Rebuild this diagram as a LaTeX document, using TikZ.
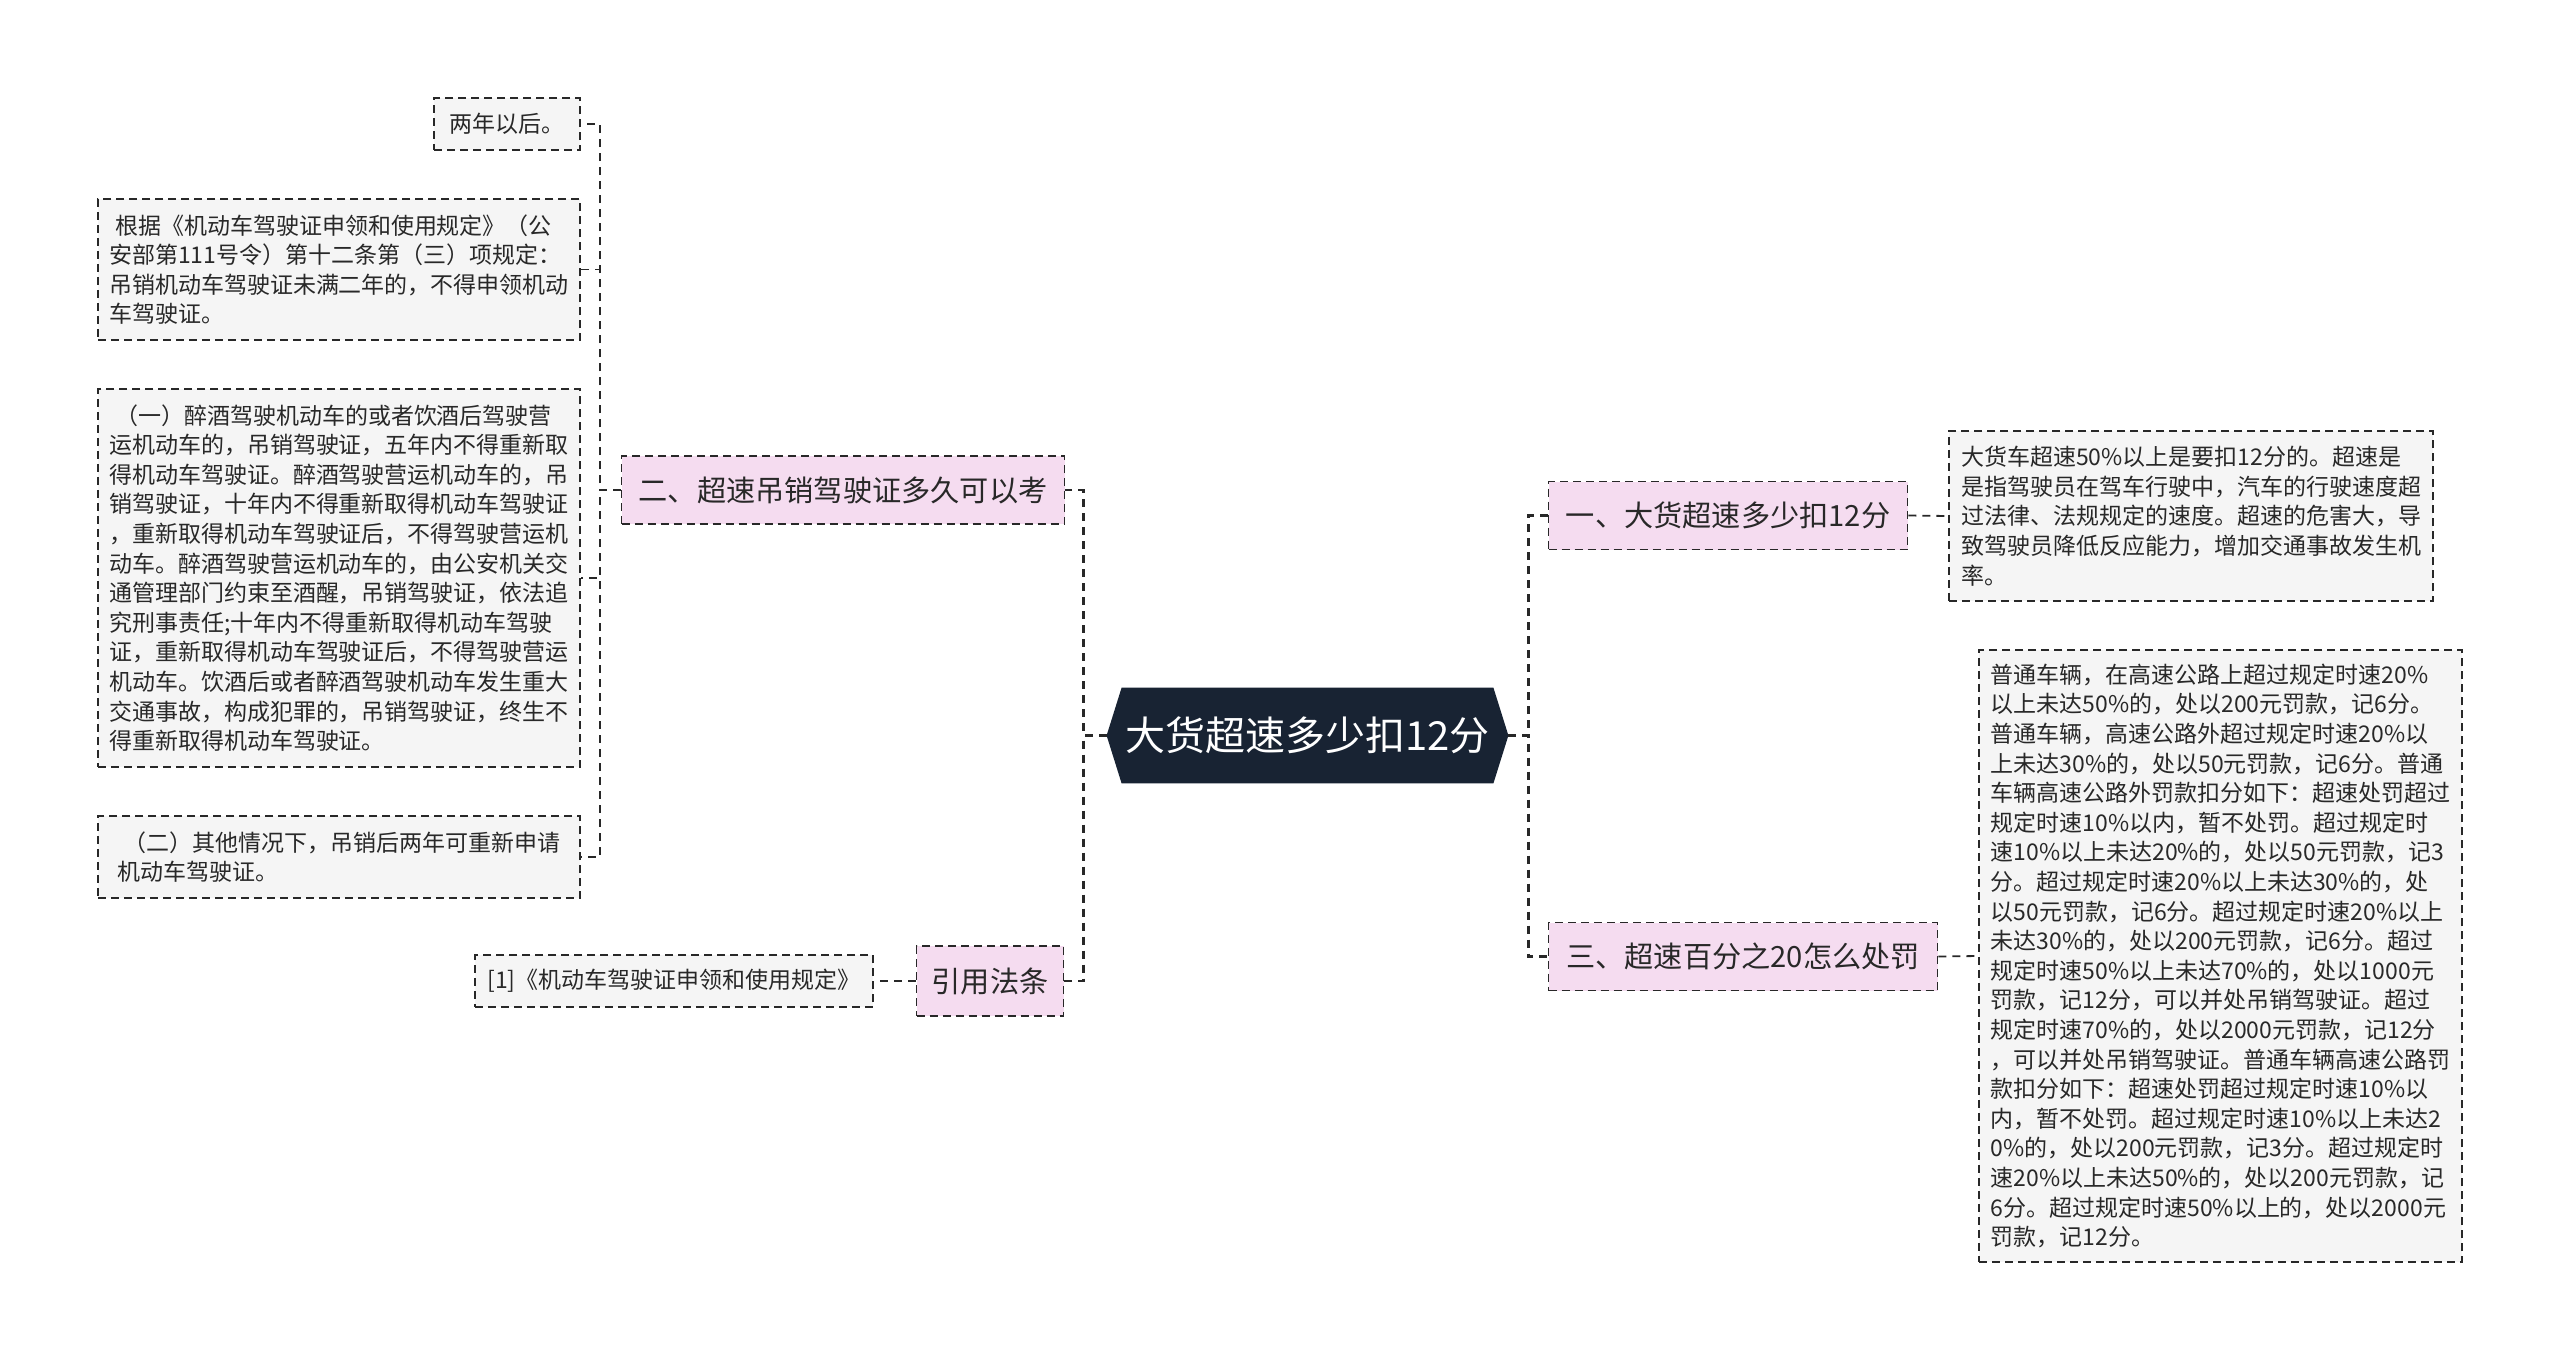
\documentclass[tikz,border=0pt]{standalone}
\usepackage{fontspec}
\setmainfont{Noto Sans CJK SC}
\usepackage{xcolor}
\usepackage{tikz}
\usetikzlibrary{backgrounds,calc}

\definecolor{rootfill}{RGB}{24,35,51}
\definecolor{branchfill}{RGB}{245,220,240}
\definecolor{leaffill}{RGB}{245,245,245}
\definecolor{linecol}{RGB}{40,40,40}
\definecolor{textcol}{RGB}{40,40,40}

\begin{document}
\begin{tikzpicture}[
		x=0.5pt, y=-0.5pt,
		rootbox/.style={
			rectangle, inner sep=0pt, text=white,
			minimum width=200.5pt, minimum height=47.5pt,
			font=\fontsize{20}{24}\selectfont
		},
		branch/.style={
			rectangle, inner sep=0pt,
			draw=linecol, line width=0.9pt, dash pattern=on 4pt off 2.5pt,
			fill=branchfill, text=textcol,
			font=\fontsize{14.6}{18}\selectfont
		},
		leaf/.style={
			rectangle, inner sep=0pt, align=left,
			draw=linecol, line width=0.8pt, dash pattern=on 4pt off 2.5pt,
			fill=leaffill, text=textcol,
			font=\fontsize{11.5}{14.8}\selectfont
		},
		link/.style={draw=linecol, line width=1.4pt, dash pattern=on 4pt off 3pt},
		sublink/.style={draw=linecol, line width=0.9pt, dash pattern=on 4pt off 3pt}
	]
	\useasboundingbox (0,0) rectangle (2560,1361);

	% centre
	\node[rootbox] (root) at (1307.5,735.5) {大货超速多少扣12分};
	\begin{scope}[on background layer]
		\fill[rootfill] (root.west) -- ($(root.north west)+(15,0)$) -- ($(root.north east)+(-15,0)$)
		-- (root.east) -- ($(root.south east)+(-15,0)$) -- ($(root.south west)+(15,0)$) -- cycle;
	\end{scope}

	% left side
	\node[branch, minimum width=221.5pt, minimum height=34pt] (revoke) at (843,490) {二、超速吊销驾驶证多久可以考};
	\node[branch, minimum width=73.5pt, minimum height=35pt] (cite) at (990,981) {引用法条};

	\node[leaf, minimum width=73pt, minimum height=26pt] (twoyears) at (507,124) {两年以后。};
	\node[leaf, minimum width=241pt, minimum height=70.5pt] (basis) at (339,269.5)
	{\hspace*{3pt}根据《机动车驾驶证申领和使用规定》（公\\
		安部第111号令）第十二条第（三）项规定：\\
		吊销机动车驾驶证未满二年的，不得申领机动\\
		车驾驶证。};
	\node[leaf, minimum width=241pt, minimum height=189pt] (drunk) at (339,578)
	{\hspace*{3pt}（一）醉酒驾驶机动车的或者饮酒后驾驶营\\
		运机动车的，吊销驾驶证，五年内不得重新取\\
		得机动车驾驶证。醉酒驾驶营运机动车的，吊\\
		销驾驶证，十年内不得重新取得机动车驾驶证\\
		，重新取得机动车驾驶证后，不得驾驶营运机\\
		动车。醉酒驾驶营运机动车的，由公安机关交\\
		通管理部门约束至酒醒，吊销驾驶证，依法追\\
		究刑事责任;十年内不得重新取得机动车驾驶\\
		证，重新取得机动车驾驶证后，不得驾驶营运\\
		机动车。饮酒后或者醉酒驾驶机动车发生重大\\
		交通事故，构成犯罪的，吊销驾驶证，终生不\\
		得重新取得机动车驾驶证。};
	\node[leaf, minimum width=241pt, minimum height=41pt] (other) at (339,857)
	{\hspace*{3pt}（二）其他情况下，吊销后两年可重新申请\\
		机动车驾驶证。};
	\node[leaf, minimum width=199pt, minimum height=26pt] (law) at (674,981)
	{[1]《机动车驾驶证申领和使用规定》};

	% right side
	\node[branch, minimum width=179.5pt, minimum height=34pt] (howmany) at (1728,515.5) {一、大货超速多少扣12分};
	\node[branch, minimum width=194.5pt, minimum height=34pt] (penalty) at (1743,956.5) {三、超速百分之20怎么处罚};

	\node[leaf, minimum width=242pt, minimum height=85pt] (truck) at (2191,516)
	{大货车超速50\%以上是要扣12分的。超速是\\
		是指驾驶员在驾车行驶中，汽车的行驶速度超\\
		过法律、法规规定的速度。超速的危害大，导\\
		致驾驶员降低反应能力，增加交通事故发生机\\
		率。};
	\node[leaf, minimum width=241.5pt, minimum height=306pt] (rules) at (2220.5,956)
	{普通车辆，在高速公路上超过规定时速20\%\\
		以上未达50\%的，处以200元罚款，记6分。\\
		普通车辆，高速公路外超过规定时速20\%以\\
		上未达30\%的，处以50元罚款，记6分。普通\\
		车辆高速公路外罚款扣分如下：超速处罚超过\\
		规定时速10\%以内，暂不处罚。超过规定时\\
		速10\%以上未达20\%的，处以50元罚款，记3\\
		分。超过规定时速20\%以上未达30\%的，处\\
		以50元罚款，记6分。超过规定时速20\%以上\\
		未达30\%的，处以200元罚款，记6分。超过\\
		规定时速50\%以上未达70\%的，处以1000元\\
		罚款，记12分，可以并处吊销驾驶证。超过\\
		规定时速70\%的，处以2000元罚款，记12分\\
		，可以并处吊销驾驶证。普通车辆高速公路罚\\
		款扣分如下：超速处罚超过规定时速10\%以\\
		内，暂不处罚。超过规定时速10\%以上未达2\\
		0\%的，处以200元罚款，记3分。超过规定时\\
		速20\%以上未达50\%的，处以200元罚款，记\\
		6分。超过规定时速50\%以上的，处以2000元\\
		罚款，记12分。};

	% connectors
	\draw[link] (root.west) -- ++(-23,0) |- (revoke.east);
	\draw[link] (root.west) -- ++(-23,0) |- (cite.east);
	\draw[link] (root.east) -- ++(20,0) |- (howmany.west);
	\draw[link] (root.east) -- ++(20,0) |- (penalty.west);

	\foreach \leafname in {twoyears, basis, drunk, other}
	\draw[sublink] (revoke.west) -- ++(-21,0) |- (\leafname.east);
	\draw[sublink] (cite.west) -- (law.east);
	\draw[sublink] (howmany.east) -- (truck.west);
	\draw[sublink] (penalty.east) -- (rules.west);
\end{tikzpicture}
\end{document}
